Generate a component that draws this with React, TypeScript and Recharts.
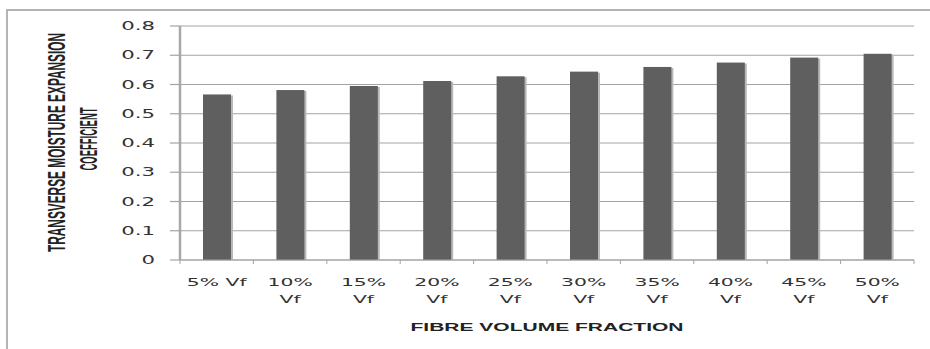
import { BarChart, Bar, XAxis, YAxis, CartesianGrid, Label } from "recharts";

// Fibre volume fraction categories and the measured coefficient for each
const fractions = ["5% Vf", "10% Vf", "15% Vf", "20% Vf", "25% Vf", "30% Vf", "35% Vf", "40% Vf", "45% Vf", "50% Vf"];
const coefficients = [0.566, 0.581, 0.595, 0.612, 0.628, 0.644, 0.66, 0.675, 0.692, 0.705];
const yTicks = [0, 0.1, 0.2, 0.3, 0.4, 0.5, 0.6, 0.7, 0.8];

const WIDTH = 930;
const HEIGHT = 349;
const PLOT_LEFT = 180;
const PLOT_RIGHT = 914;
const PLOT_TOP = 26;
const PLOT_BOTTOM = 260;
const BAND = (PLOT_RIGHT - PLOT_LEFT) / fractions.length;

const GRID = "#a3a3a3";
const BAR = "#5f5f5f";
const TEXT = "#333";
const STRETCH = 1.85;

const data = fractions.map((name, i) => ({ name, value: coefficients[i] }));

const ShadowBar = (props: any) => {
  const { x, y, width, height } = props;
  return (
    <g>
      <rect x={x + 2} y={y + 1} width={width} height={height - 1} fill="#b8b8b8" />
      <rect x={x} y={y} width={width} height={height} fill={BAR} />
    </g>
  );
};

const YTick = (props: any) => {
  const { x, y, payload } = props;
  return (
    <text
      transform={`translate(${x},${y}) scale(${STRETCH},1)`}
      textAnchor="end"
      dy={4}
      fontFamily="DejaVu Sans"
      fontSize={11.5}
      fill={TEXT}
    >
      {String(payload.value)}
    </text>
  );
};

const XTick = (props: any) => {
  const { x, payload, index } = props;
  const label: string = payload.value;
  // short labels fit on one line, the rest wrap after the percentage
  const lines = label.length > 5 ? label.split(" ") : [label];
  const left = x - BAND / 2;
  return (
    <g>
      <line x1={left} y1={PLOT_BOTTOM} x2={left} y2={PLOT_BOTTOM + 4} stroke={GRID} />
      {index === fractions.length - 1 && (
        <line x1={x + BAND / 2} y1={PLOT_BOTTOM} x2={x + BAND / 2} y2={PLOT_BOTTOM + 4} stroke={GRID} />
      )}
      {lines.map((ln, i) => (
        <text
          key={i}
          transform={`translate(${x},${286 + i * 17}) scale(${STRETCH},1)`}
          textAnchor="middle"
          fontFamily="DejaVu Sans"
          fontSize={11}
          fill={TEXT}
        >
          {ln}
        </text>
      ))}
    </g>
  );
};

const YTitle = () => (
  <g fill="#222" fontWeight="bold">
    <text
      transform="translate(65,142.5) rotate(-90) scale(1,2.2)"
      textAnchor="middle"
      fontFamily="'Liberation Sans Narrow', 'Liberation Sans', sans-serif"
      fontSize={11}
      textLength={219}
      lengthAdjust="spacingAndGlyphs"
    >
      TRANSVERSE MOISTURE EXPANSION
    </text>
    <text
      transform="translate(97,139) rotate(-90) scale(1,2.2)"
      textAnchor="middle"
      fontFamily="'Liberation Sans Narrow', 'Liberation Sans', sans-serif"
      fontSize={11}
      textLength={63}
      lengthAdjust="spacingAndGlyphs"
    >
      COEFFICIENT
    </text>
  </g>
);

const XTitle = () => (
  <text
    x={(PLOT_LEFT + PLOT_RIGHT) / 2}
    y={331}
    textAnchor="middle"
    fontFamily="'Liberation Sans', sans-serif"
    fontWeight="bold"
    fontSize={11.5}
    fill="#222"
    textLength={273}
    lengthAdjust="spacingAndGlyphs"
  >
    FIBRE VOLUME FRACTION
  </text>
);

export default function App() {
  return (
    <div style={{ position: "absolute", left: 0, top: 0, width: WIDTH, height: HEIGHT, background: "#fff", overflow: "hidden" }}>
      <div
        style={{
          position: "absolute",
          left: 6,
          top: 9,
          width: WIDTH,
          height: HEIGHT,
          borderLeft: "2px solid #b4b4b4",
          borderTop: "2px solid #b4b4b4",
        }}
      />
      <div style={{ position: "absolute", left: 0, top: 0 }}>
        <BarChart
          width={WIDTH}
          height={HEIGHT}
          data={data}
          margin={{ top: PLOT_TOP, right: WIDTH - PLOT_RIGHT, bottom: 0, left: 0 }}
          barSize={28}
        >
          <CartesianGrid vertical={false} stroke={GRID} strokeWidth={1.2} />
          <XAxis
            dataKey="name"
            interval={0}
            tickLine={false}
            axisLine={{ stroke: GRID, strokeWidth: 1.2 }}
            tick={<XTick />}
            height={HEIGHT - PLOT_BOTTOM}
          >
            <Label content={<XTitle />} />
          </XAxis>
          <YAxis
            width={PLOT_LEFT}
            domain={[0, 0.8]}
            ticks={yTicks}
            interval={0}
            tickSize={10}
            tickMargin={15}
            tickLine={{ stroke: GRID, strokeWidth: 1.2 }}
            axisLine={{ stroke: "#a8a8a8", strokeWidth: 2.5 }}
            tick={<YTick />}
          >
            <Label content={<YTitle />} />
          </YAxis>
          <Bar dataKey="value" shape={<ShadowBar />} isAnimationActive={false} />
        </BarChart>
      </div>
    </div>
  );
}
